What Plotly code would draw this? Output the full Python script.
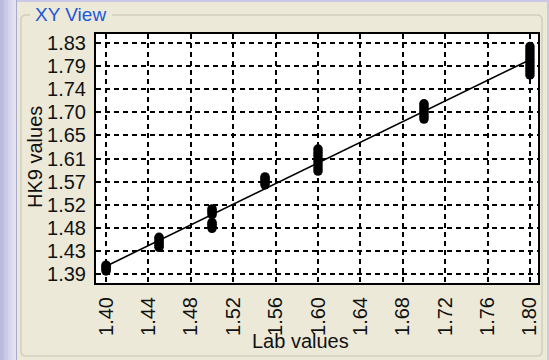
import plotly.graph_objects as go

# Measured samples: lab reference value and the corresponding HK9 readings
lab_values = [1.40, 1.45, 1.50, 1.55, 1.60, 1.70, 1.80]
hk9_readings = [
    [1.396, 1.399, 1.402, 1.405, 1.407],
    [1.441, 1.445, 1.449, 1.453, 1.457, 1.460],
    [1.477, 1.481, 1.485, 1.488, 1.503, 1.507, 1.511, 1.514],
    [1.560, 1.564, 1.568, 1.572, 1.575],
    [1.586, 1.592, 1.598, 1.604, 1.610, 1.616, 1.622, 1.628],
    [1.685, 1.690, 1.695, 1.700, 1.705, 1.710, 1.714],
    [1.769, 1.775, 1.781, 1.787, 1.793, 1.799, 1.805, 1.811, 1.817, 1.823],
]

# Regression line end points
fit_x = [1.40, 1.80]
fit_y = [1.405, 1.798]

# Axis ticks
x_tick_vals = [1.40, 1.44, 1.48, 1.52, 1.56, 1.60, 1.64, 1.68, 1.72, 1.76, 1.80]
x_tick_text = ["1.40", "1.44", "1.48", "1.52", "1.56", "1.60", "1.64", "1.68", "1.72", "1.76", "1.80"]
y_tick_vals = [1.39, 1.434, 1.478, 1.522, 1.566, 1.61, 1.654, 1.698, 1.742, 1.786, 1.83]
y_tick_text = ["1.39", "1.43", "1.48", "1.52", "1.57", "1.61", "1.65", "1.70", "1.74", "1.79", "1.83"]

W, H = 549, 360
ML, MR, MT, MB = 96, 11, 34, 77
PW, PH = W - ML - MR, H - MT - MB

PANEL = "#ECE9D8"
FONT = "Liberation Sans, Arial, sans-serif"


def px(x):
    return (x - ML) / PW


def py(y):
    return (H - MB - y) / PH


pts_x = []
pts_y = []
for lab, readings in zip(lab_values, hk9_readings):
    for r in readings:
        pts_x.append(lab)
        pts_y.append(r)

fig = go.Figure()
fig.add_trace(go.Scatter(
    x=fit_x, y=fit_y, mode="lines",
    line=dict(color="black", width=1.6),
    hoverinfo="skip", showlegend=False,
))
fig.add_trace(go.Scatter(
    x=pts_x, y=pts_y, mode="markers",
    marker=dict(color="black", size=9.5, line=dict(width=0)),
    showlegend=False,
))

shapes = []
# window edge on the left and top
edge_cols = ["#B9B9DE", "#C2C2E2", "#CBCBE7", "#D4D4EC", "#DCDCF0", "#E2E2F3"]
step = 16 / len(edge_cols)
for i, c in enumerate(edge_cols):
    shapes.append(dict(type="rect", xref="paper", yref="paper", layer="below",
                       x0=px(i * step), x1=px((i + 1) * step + 0.5), y0=py(H), y1=py(0),
                       fillcolor=c, line=dict(width=0)))
shapes.append(dict(type="rect", xref="paper", yref="paper", layer="below",
                   x0=px(16), x1=px(17), y0=py(H), y1=py(0),
                   fillcolor="#A9A9C8", line=dict(width=0)))
shapes.append(dict(type="rect", xref="paper", yref="paper", layer="below",
                   x0=px(17), x1=px(W), y0=py(2), y1=py(0),
                   fillcolor="#C9C9E6", line=dict(width=0)))
shapes.append(dict(type="rect", xref="paper", yref="paper", layer="below",
                   x0=px(547), x1=px(W), y0=py(H), y1=py(0),
                   fillcolor="#C9C9E6", line=dict(width=0)))

# group box outline
x0, x1, y0, y1, r = 21, 542, 15, 356, 5
path = (f"M {px(30)},{py(y0)} L {px(x0 + r)},{py(y0)} Q {px(x0)},{py(y0)} {px(x0)},{py(y0 + r)} "
        f"L {px(x0)},{py(y1 - r)} Q {px(x0)},{py(y1)} {px(x0 + r)},{py(y1)} "
        f"L {px(x1 - r)},{py(y1)} Q {px(x1)},{py(y1)} {px(x1)},{py(y1 - r)} "
        f"L {px(x1)},{py(y0 + r)} Q {px(x1)},{py(y0)} {px(x1 - r)},{py(y0)} L {px(112)},{py(y0)}")
shapes.append(dict(type="path", xref="paper", yref="paper", layer="below",
                   path=path, line=dict(color="#D0CFBF", width=1.5)))

annotations = [
    dict(text="XY View", xref="paper", yref="paper", x=px(33), y=py(15),
         xanchor="left", yanchor="middle", showarrow=False,
         font=dict(family=FONT, size=19, color="#2157D9")),
    dict(text="Lab values", xref="paper", yref="paper", x=px(300), y=py(341),
         xanchor="center", yanchor="middle", showarrow=False,
         font=dict(family=FONT, size=20, color="#111111")),
    dict(text="HK9 values", xref="paper", yref="paper", x=px(35), y=py(157),
         xanchor="center", yanchor="middle", showarrow=False, textangle=-90,
         font=dict(family=FONT, size=20, color="#111111")),
]

axis_common = dict(
    showgrid=True, gridcolor="black", gridwidth=1.5, griddash="5px,4px",
    showline=True, linecolor="black", linewidth=2, mirror=True,
    zeroline=False, ticks="outside", ticklen=4, tickcolor=PANEL,
    tickfont=dict(family=FONT, size=20, color="#111111"),
)

fig.update_layout(
    width=W, height=H,
    margin=dict(l=ML, r=MR, t=MT, b=MB, autoexpand=False),
    paper_bgcolor=PANEL, plot_bgcolor="white",
    xaxis=dict(range=[1.3905, 1.8076], tickvals=x_tick_vals, ticktext=x_tick_text,
               tickangle=-90, **axis_common),
    yaxis=dict(range=[1.373, 1.847], tickvals=y_tick_vals, ticktext=y_tick_text,
               **axis_common),
    shapes=shapes, annotations=annotations,
)

fig.write_html("out.html")
